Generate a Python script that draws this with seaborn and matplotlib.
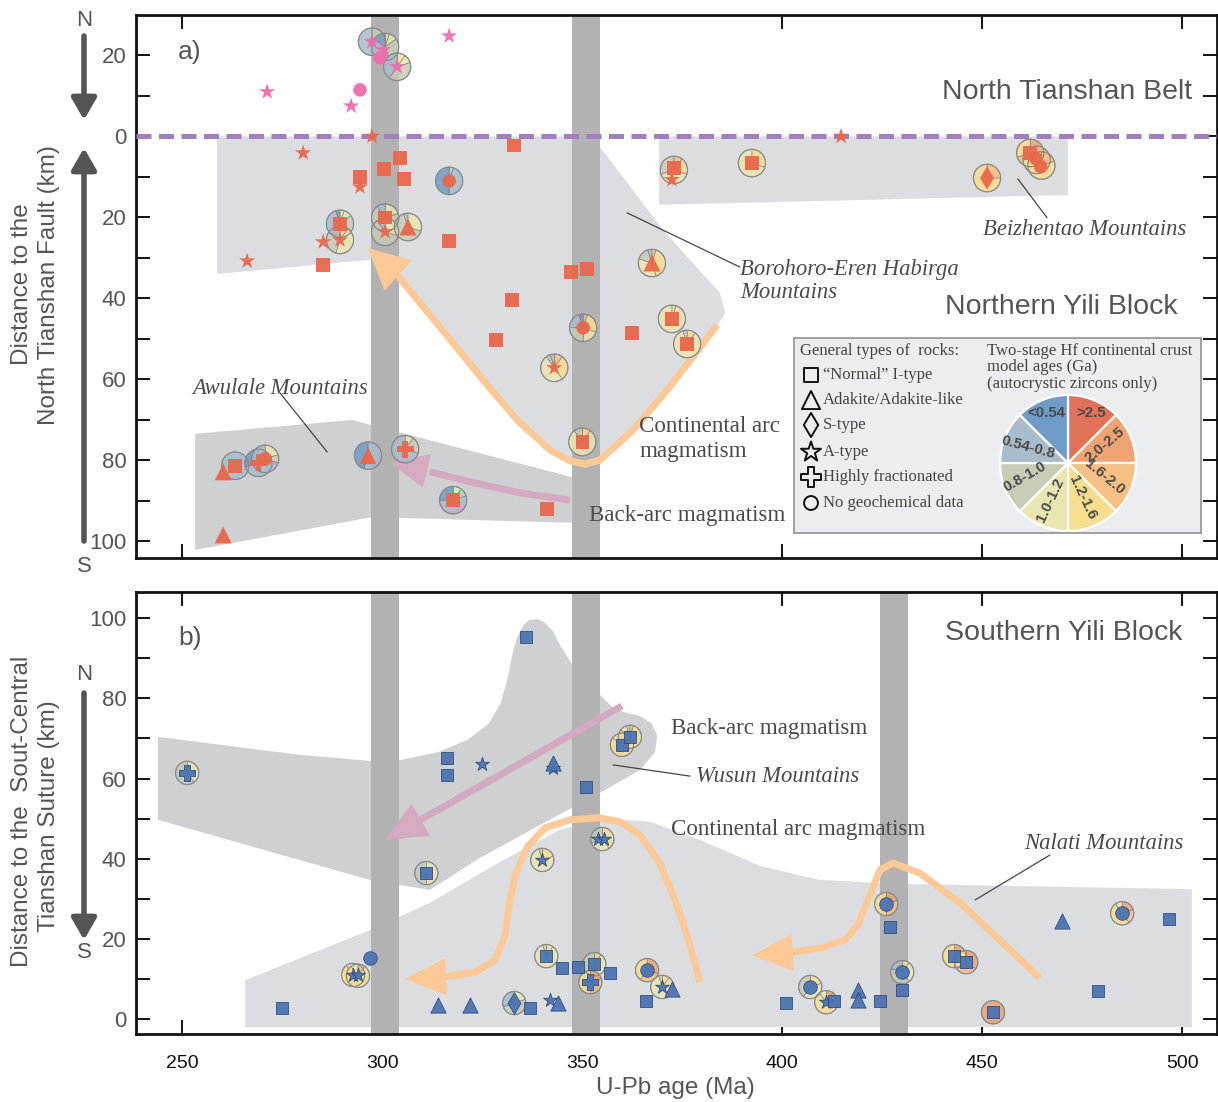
import numpy as np
import pandas as pd
import matplotlib
matplotlib.use("Agg")
import matplotlib.pyplot as plt
from matplotlib.patches import Wedge, Circle, Polygon, FancyArrowPatch
import matplotlib.ticker as mticker
import seaborn as sns

sns.set_theme(style="white")
plt.rcParams["font.family"] = ["Liberation Sans", "DejaVu Sans"]
SERIF = ["Liberation Serif", "DejaVu Serif"]

# ---------------------------------------------------------------- data ----
# Hf model-age classes (Ga), clockwise from 12 o'clock
hf_classes = [">2.5", "2.0-2.5", "1.6-2.0", "1.2-1.6", "1.0-1.2", "0.8-1.0", "0.54-0.8", "<0.54"]
hf_colors = ["#e2715a", "#f0a373", "#f6bf84", "#f6de8e", "#e9e7b1", "#c7ccb7", "#a8bccc", "#6e9bc7"]

rock_types = ["I", "adakite", "S", "A", "HF", "none"]
rock_labels = ["\u201cNormal\u201d I-type", "Adakite/Adakite-like", "S-type", "A-type",
               "Highly fractionated", "No geochemical data"]

# Panel a - North Tianshan Belt (negative distance = north of the fault)
nt_age = [271.2, 292.2, 316.7, 297.4, 300.2, 303.7, 294.4, 299.4]
nt_dist = [-11.0, -7.5, -24.8, -23.4, -21.4, -17.2, -11.5, -19.4]
nt_rock = ["A", "A", "A", "A", "A", "A", "none", "none"]

# Panel a - Northern Yili Block
ny_age = [294.4, 300.4, 304.4, 305.4, 285.2, 289.4, 300.7, 332.9, 316.7, 347.2, 351.2, 332.4,
          328.4, 362.4, 372.4, 376.2, 350.0, 317.7, 341.2, 372.9, 392.4, 263.2, 462.0,
          297.4, 280.2, 294.4, 266.2, 285.2, 289.4, 300.7, 372.4, 343.0, 414.7,
          306.4, 367.4, 260.2, 260.2, 296.4,
          316.7, 350.2, 270.7, 463.4, 464.6,
          305.7, 269.0,
          451.2]
ny_dist = [10.0, 8.0, 5.3, 10.5, 31.8, 21.6, 20.1, 2.3, 25.8, 33.5, 32.8, 40.4,
           50.3, 48.6, 45.1, 51.3, 75.5, 89.9, 92.1, 7.8, 6.6, 81.4, 4.1,
           0.0, 4.1, 12.5, 30.8, 26.1, 25.6, 23.6, 10.7, 57.2, 0.0,
           22.4, 31.3, 82.9, 98.5, 78.9,
           11.0, 47.3, 79.7, 5.5, 7.5,
           77.3, 80.7,
           10.3]
ny_rock = ["I"] * 23 + ["A"] * 10 + ["adakite"] * 5 + ["none"] * 5 + ["HF"] * 2 + ["S"]

# Panel a - Hf model-age pies (fractions per class)
a_pie_age = [297.4, 300.7, 303.7, 289.4, 289.4, 300.7, 300.7, 306.4, 316.7, 372.9, 392.4,
             367.4, 350.2, 343.0, 372.4, 376.2, 350.0, 317.7, 305.7, 263.2, 269.0, 270.7,
             296.4, 451.2, 462.0, 463.6, 464.8]
a_pie_dist = [-23.4, -22.1, -17.2, 21.6, 25.6, 20.1, 23.6, 22.4, 11.0, 8.3, 6.6,
              31.3, 47.3, 57.2, 45.1, 51.3, 75.5, 89.9, 77.3, 81.4, 80.7, 79.7,
              78.9, 10.3, 4.1, 5.8, 7.2]
a_pie_frac = [
    [0, 0, 0, 0, 0, 0.30, 0.70, 0],
    [0, 0, 0, 0.05, 0.10, 0.30, 0.40, 0.15],
    [0, 0, 0, 0.10, 0.10, 0.40, 0.40, 0],
    [0, 0, 0, 0.05, 0.10, 0.30, 0.50, 0.05],
    [0, 0, 0, 0.10, 0.45, 0.30, 0.15, 0],
    [0, 0, 0, 0, 0.20, 0.70, 0.10, 0],
    [0, 0, 0, 0, 0.30, 0.60, 0.10, 0],
    [0, 0, 0, 0, 0.30, 0.65, 0.05, 0],
    [0, 0, 0, 0, 0, 0.05, 0.45, 0.50],
    [0, 0, 0.10, 0.20, 0.40, 0.30, 0, 0],
    [0, 0, 0, 0.30, 0.70, 0, 0, 0],
    [0, 0, 0.05, 0.40, 0.35, 0.15, 0.05, 0],
    [0, 0, 0.05, 0.25, 0.20, 0.25, 0.20, 0.05],
    [0, 0, 0.10, 0.30, 0.50, 0.05, 0.05, 0],
    [0, 0, 0, 0.05, 0.95, 0, 0, 0],
    [0, 0, 0, 0.10, 0.85, 0.05, 0, 0],
    [0, 0, 0, 0.10, 0.80, 0.10, 0, 0],
    [0, 0, 0, 0, 0.10, 0.10, 0.55, 0.25],
    [0, 0, 0, 0, 0.10, 0.20, 0.70, 0],
    [0, 0, 0, 0, 0, 0, 1.00, 0],
    [0, 0, 0, 0, 0, 0.10, 0.60, 0.30],
    [0, 0, 0, 0, 0.20, 0.10, 0.70, 0],
    [0, 0, 0, 0, 0, 0, 0.55, 0.45],
    [0, 0, 0.25, 0.75, 0, 0, 0, 0],
    [0, 0.30, 0.40, 0.30, 0, 0, 0, 0],
    [0, 0, 0.30, 0.70, 0, 0, 0, 0],
    [0, 0, 0.20, 0.80, 0, 0, 0, 0],
]

# Panel b - Southern Yili Block
sy_age = [274.9, 335.9, 316.2, 316.2, 350.9, 344.9, 348.9, 356.9, 365.9, 336.9, 400.9, 424.4,
          426.9, 429.9, 496.7, 478.9, 412.9, 311.0, 341.0, 353.0, 359.9, 361.9, 443.0, 446.0, 452.7,
          313.9, 321.9, 343.9, 372.4, 418.9, 418.9, 469.9, 342.7,
          324.9, 342.7, 341.9, 292.7, 293.9, 353.9, 355.4, 340.0, 370.0, 411.0,
          296.9, 366.2, 407.0, 426.0, 430.0, 485.0,
          251.2, 352.0,
          333.0]
sy_dist = [2.7, 95.3, 65.1, 60.9, 57.9, 12.7, 13.0, 11.5, 4.5, 2.7, 4.0, 4.5,
           23.0, 7.2, 25.0, 7.0, 4.5, 36.4, 15.7, 13.7, 68.4, 70.4, 15.7, 14.2, 1.7,
           3.5, 3.5, 4.0, 7.5, 7.2, 4.7, 24.5, 63.9,
           63.6, 62.6, 4.7, 11.0, 11.0, 45.0, 45.0, 39.7, 8.0, 4.2,
           15.2, 12.2, 8.0, 28.7, 11.7, 26.4,
           61.4, 9.2,
           4.0]
sy_rock = ["I"] * 25 + ["adakite"] * 8 + ["A"] * 10 + ["none"] * 6 + ["HF"] * 2 + ["S"]

b_pie_age = [251.2, 292.7, 293.9, 359.9, 361.9, 355.0, 311.0, 340.0, 341.0, 353.0, 352.0,
             366.2, 370.0, 333.0, 407.0, 411.0, 426.0, 430.0, 443.0, 446.0, 452.7, 485.0]
b_pie_dist = [61.4, 11.0, 10.8, 68.4, 70.4, 44.9, 36.4, 39.7, 15.7, 13.7, 9.2,
              12.2, 8.0, 4.0, 8.0, 4.2, 28.7, 11.7, 15.7, 14.2, 1.7, 26.4]
b_pie_frac = [
    [0, 0, 0, 0, 0.40, 0.60, 0, 0],
    [0, 0, 0.10, 0.80, 0.10, 0, 0, 0],
    [0, 0, 0.10, 0.80, 0.10, 0, 0, 0],
    [0, 0, 0.05, 0.80, 0.10, 0.05, 0, 0],
    [0, 0, 0.05, 0.80, 0.10, 0.05, 0, 0],
    [0, 0, 0, 0.40, 0.30, 0.30, 0, 0],
    [0, 0, 0, 0, 0.50, 0.50, 0, 0],
    [0, 0, 0, 0.20, 0.75, 0.05, 0, 0],
    [0, 0, 0, 0.10, 0.85, 0.05, 0, 0],
    [0, 0, 0, 0.10, 0.40, 0.50, 0, 0],
    [0, 0.20, 0.30, 0.50, 0, 0, 0, 0],
    [0, 0.30, 0.30, 0.40, 0, 0, 0, 0],
    [0, 0, 0, 0.10, 0.85, 0.05, 0, 0],
    [0, 0, 0, 0, 0.20, 0.50, 0.30, 0],
    [0, 0, 0, 0.20, 0.40, 0.40, 0, 0],
    [0, 0.10, 0.20, 0.60, 0.10, 0, 0, 0],
    [0, 0.20, 0.30, 0.50, 0, 0, 0, 0],
    [0, 0, 0, 0.10, 0.30, 0.40, 0.20, 0],
    [0, 0.20, 0.30, 0.50, 0, 0, 0, 0],
    [0, 0.35, 0.30, 0.35, 0, 0, 0, 0],
    [0, 1.00, 0, 0, 0, 0, 0, 0],
    [0, 0.20, 0.20, 0.50, 0.10, 0, 0, 0],
]

# Magmatic flare-up intervals (Ma)
event_a = [(297.2, 304.2), (347.4, 354.4)]
event_b = [(297.2, 304.2), (347.4, 354.4), (424.4, 431.4)]

# Outlined domains (age, distance)
boro_age = [258.7, 354.4, 354.4, 370.2, 376.9, 384.4, 385.7, 383.7, 379.4, 371.2, 362.7,
            354.4, 350.7, 346.9, 341.9, 333.7, 325.2, 314.4, 303.2, 296.9, 258.7]
boro_dist = [0.0, 0.0, 2.6, 23.1, 30.5, 38.7, 43.6, 47.1, 52.3, 62.7, 72.6,
             80.0, 81.0, 80.2, 77.5, 70.1, 60.2, 47.1, 33.7, 30.5, 34.0]
beiz_age = [369.2, 471.4, 471.4, 369.2]
beiz_dist = [0.0, 0.0, 14.5, 16.9]
awul_age = [253.2, 292.4, 347.4, 347.4, 297.4, 253.2]
awul_dist = [73.5, 70.1, 84.2, 95.5, 94.1, 102.2]
wusun_age = [243.9, 279.4, 296.9, 304.4, 314.0, 321.2, 326.5, 329.5, 331.2, 332.4, 333.6, 335.2,
             336.9, 339.0, 340.7, 342.8, 344.4, 347.4, 353.2, 357.7, 361.0, 364.4, 367.3, 368.7,
             368.2, 364.4, 354.4, 339.4, 324.4, 311.9, 296.9, 243.9]
wusun_dist = [70.4, 65.9, 64.4, 64.6, 66.6, 69.6, 73.6, 78.6, 84.4, 90.4, 95.0, 98.2,
              99.6, 99.7, 98.8, 96.6, 93.3, 88.6, 82.1, 77.6, 76.4, 75.6, 73.8, 70.8,
              66.6, 62.1, 56.4, 48.4, 40.2, 32.2, 34.7, 49.7]
nalati_age = [265.7, 296.9, 311.9, 329.4, 344.4, 354.4, 366.9, 379.4, 394.4, 409.4, 429.4,
              502.4, 502.4, 265.7]
nalati_dist = [9.7, 22.2, 29.0, 39.2, 47.2, 50.2, 49.2, 44.7, 38.2, 34.7, 33.7,
               32.4, -2.0, -2.0]

# Migration paths (last point = arrow tip)
arc_a_age = [383.7, 379.4, 371.2, 362.7, 354.4, 350.7, 346.9, 341.9, 333.7, 325.2, 314.4, 303.2, 296.4]
arc_a_dist = [46.6, 52.3, 62.7, 72.6, 80.0, 81.0, 80.2, 77.5, 70.1, 60.2, 47.1, 33.7, 27.6]
back_a_age = [346.9, 334.4, 321.9, 311.9, 301.9]
back_a_dist = [89.9, 88.1, 85.4, 82.9, 80.5]
arc_b1_age = [379.4, 376.9, 374.4, 369.4, 364.4, 359.4, 354.4, 346.9, 340.7, 336.2, 333.2,
              331.9, 330.7, 328.2, 323.2, 315.7, 305.7]
arc_b1_dist = [9.2, 18.5, 26.5, 38.9, 45.9, 49.2, 50.2, 49.7, 47.7, 42.9, 35.9,
               29.7, 21.0, 14.7, 11.7, 10.5, 10.0]
arc_b2_age = [464.4, 454.4, 444.4, 434.4, 427.7, 424.4, 421.9, 418.9, 415.7, 409.4, 401.9, 392.4]
arc_b2_dist = [10.2, 19.7, 29.0, 36.4, 38.9, 37.2, 30.9, 23.5, 19.7, 17.7, 16.5, 15.9]
back_b_age = [359.9, 309.0, 300.7]
back_b_dist = [78.1, 49.4, 44.7]

# ------------------------------------------------------------- styling ----
W, H = 1218, 1102
RED, PINK, BLUE = "#e9674b", "#ef6dab", "#4b74b2"
ORANGE, MAUVE = "#fdc996", "#d5a9bf"
LIGHT, DARK, BAR = "#dcdde0", "#cfd0d2", "#b2b2b2"
TXT = "#555555"

MARK = {"I": "s", "adakite": "^", "S": "d", "A": "*", "HF": "P", "none": "o"}
SIZE_A = {"I": 95, "adakite": 150, "S": 140, "A": 150, "HF": 150, "none": 95}
SIZE_B = {"I": 70, "adakite": 120, "S": 120, "A": 110, "HF": 120, "none": 95}


def fx(px):
    return px / W


def fy(py):
    return 1 - py / H


fig = plt.figure(figsize=(W / 100, H / 100), dpi=100)
ax_a = fig.add_axes([fx(136), fy(558), (1217 - 136) / W, (558 - 15) / H])
ax_b = fig.add_axes([fx(136), fy(1034.3), (1217 - 136) / W, (1034.3 - 591.7) / H])


def add_pies(ax, ages, dists, fracs, radius, flip):
    for x, y, fr in zip(ages, dists, fracs):
        start = 90.0
        for f, col in zip(fr, hf_colors):
            if f <= 0:
                continue
            end = start - 360.0 * f
            t1, t2 = (-start, -end) if flip else (end, start)
            ax.add_patch(Wedge((x, y), radius, t1, t2, facecolor=col, edgecolor="#6f6f6f",
                               linewidth=0.4, alpha=0.85, zorder=5))
            start = end
        ax.add_patch(Circle((x, y), radius, facecolor="none", edgecolor="#8a8a8a",
                            linewidth=0.9, zorder=5.1))


def add_markers(ax, age, dist, rock, color, sizes, edge, lw):
    df = pd.DataFrame({"age": age, "dist": dist, "rock": rock})
    for r, grp in df.groupby("rock"):
        sns.scatterplot(data=grp, x="age", y="dist", marker=MARK[r], s=sizes[r], color=color,
                        edgecolor=edge, linewidth=lw, alpha=0.95, ax=ax, zorder=6, legend=False)


def add_path(ax, xs, ys, color, lw, ms, hl, hw):
    ax.plot(xs[:-1], ys[:-1], color=color, lw=lw, solid_capstyle="butt",
            solid_joinstyle="round", zorder=3)
    ax.annotate("", xy=(xs[-1], ys[-1]), xytext=(xs[-2], ys[-2]),
                arrowprops=dict(arrowstyle=f"-|>,head_length={hl},head_width={hw}",
                                color=color, lw=0.5, mutation_scale=ms,
                                shrinkA=0, shrinkB=0), zorder=3)


def region(ax, xs, ys, color):
    ax.add_patch(Polygon(np.column_stack([xs, ys]), closed=True, facecolor=color,
                         edgecolor="none", zorder=1))


def style_axes(ax, ylim, yticks, show_x):
    ax.set_xlim(238.4, 508.7)
    ax.set_ylim(*ylim)
    ax.set_xlabel("")
    ax.set_ylabel("")
    ax.xaxis.set_major_locator(mticker.FixedLocator([250, 300, 350, 400, 450, 500]))
    ax.yaxis.set_major_locator(mticker.FixedLocator(yticks))
    ax.yaxis.set_major_formatter(mticker.FuncFormatter(
        lambda v, p: f"{abs(v):.0f}" if round(v) % 20 == 0 else ""))
    ax.tick_params(axis="both", direction="in", length=10, width=1.4, color="#111",
                   top=True, right=True, bottom=True, left=True)
    ax.tick_params(axis="y", labelsize=16, labelcolor=TXT, pad=7)
    ax.tick_params(axis="x", labelsize=14, labelcolor="#111", pad=15, labelbottom=show_x)
    for s in ax.spines.values():
        s.set_visible(True)
        s.set_color("#111")
        s.set_linewidth(2.0)
    ax.set_facecolor("white")


# ------------------------------------------------------------- panel a ----
region(ax_a, boro_age, boro_dist, LIGHT)
region(ax_a, beiz_age, beiz_dist, LIGHT)
region(ax_a, awul_age, awul_dist, DARK)
for lo, hi in event_a:
    ax_a.axvspan(lo, hi, color=BAR, lw=0, zorder=2)
add_path(ax_a, arc_a_age, arc_a_dist, ORANGE, 5, 26, 1.1, 0.55)
add_path(ax_a, back_a_age, back_a_dist, MAUVE, 5, 24, 1.1, 0.5)
ax_a.axhline(0, color="#a07ec0", lw=3.6, ls=(0, (3.0, 1.5)), zorder=4)
add_pies(ax_a, a_pie_age, a_pie_dist, a_pie_frac, 3.4, flip=True)
add_markers(ax_a, ny_age, ny_dist, ny_rock, RED, SIZE_A, "none", 0)
add_markers(ax_a, nt_age, nt_dist, nt_rock, PINK, SIZE_A, "none", 0)
style_axes(ax_a, (104.2, -30.0), list(range(-20, 101, 10)), False)

ax_a.text(0.039, 0.932, "a)", transform=ax_a.transAxes, fontsize=19, color=TXT, va="center")
ax_a.text(0.977, 0.858, "North Tianshan Belt", transform=ax_a.transAxes, fontsize=20.5,
          color=TXT, ha="right", va="center")
ax_a.text(0.964, 0.462, "Northern Yili Block", transform=ax_a.transAxes, fontsize=20.5,
          color=TXT, ha="right", va="center")
it = dict(family=SERIF, style="italic", fontsize=16.3, color="#4a4a4a", va="center", zorder=7)
rm = dict(family=SERIF, fontsize=16.6, color="#4a4a4a", va="center", zorder=7)
ax_a.text(389.4, 33.0, "Borohoro-Eren Habirga", **it)
ax_a.text(389.4, 38.6, "Mountains", **it)
ax_a.plot([361.2, 389.4], [18.9, 32.3], color="#444", lw=0.9, zorder=7)
ax_a.text(450.2, 22.9, "Beizhentao Mountains", **it)
ax_a.plot([458.9, 466.2], [10.5, 20.1], color="#444", lw=0.9, zorder=7)
ax_a.text(252.4, 62.2, "Awulale Mountains", **it)
ax_a.plot([274.4, 286.2], [63.4, 78.0], color="#444", lw=0.9, zorder=7)
ax_a.text(364.2, 71.8, "Continental arc", **rm)
ax_a.text(364.2, 77.8, "magmatism", **rm)
ax_a.text(351.7, 93.8, "Back-arc magmatism", **rm)

# ------------------------------------------------------------- panel b ----
region(ax_b, wusun_age, wusun_dist, DARK)
region(ax_b, nalati_age, nalati_dist, LIGHT)
for lo, hi in event_b:
    ax_b.axvspan(lo, hi, color=BAR, lw=0, zorder=2)
add_path(ax_b, arc_b1_age, arc_b1_dist, ORANGE, 5, 26, 1.1, 0.5)
add_path(ax_b, arc_b2_age, arc_b2_dist, ORANGE, 5, 26, 1.1, 0.5)
add_path(ax_b, back_b_age, back_b_dist, MAUVE, 5, 26, 1.1, 0.5)
add_pies(ax_b, b_pie_age, b_pie_dist, b_pie_frac, 2.9, flip=False)
add_markers(ax_b, sy_age, sy_dist, sy_rock, BLUE, SIZE_B, "#2c4a7c", 0.6)
style_axes(ax_b, (-3.8, 106.6), list(range(0, 101, 10)), True)

ax_b.text(0.039, 0.895, "b)", transform=ax_b.transAxes, fontsize=19, color=TXT, va="center")
ax_b.text(0.968, 0.907, "Southern Yili Block", transform=ax_b.transAxes, fontsize=20.5,
          color=TXT, ha="right", va="center")
ax_b.text(372.2, 72.4, "Back-arc magmatism", **rm)
ax_b.text(378.4, 60.4, "Wusun Mountains", **it)
ax_b.plot([357.7, 376.9], [63.4, 60.6], color="#444", lw=0.9, zorder=7)
ax_b.text(372.2, 47.2, "Continental arc magmatism", **rm)
ax_b.text(460.4, 43.9, "Nalati Mountains", **it)
ax_b.plot([466.9, 448.2], [40.9, 29.7], color="#444", lw=0.9, zorder=7)

# ------------------------------------------------------ axis titles -------
lab = dict(rotation=90, ha="center", va="center", fontsize=17.5, color=TXT)
fig.text(fx(22), fy(284), "Distance to the", **lab)
fig.text(fx(49), fy(285), "North Tianshan Fault (km)", **lab)
fig.text(fx(22), fy(811), "Distance to the  Sout-Central", **lab)
fig.text(fx(49), fy(816), "Tianshan Suture (km)", **lab)
fig.text(fx(675), fy(1088), "U-Pb age (Ma)", ha="center", va="center", fontsize=17.5, color=TXT)


def fig_arrow(p0, p1):
    fig.add_artist(FancyArrowPatch((fx(p0[0]), fy(p0[1])), (fx(p1[0]), fy(p1[1])),
                                   transform=fig.transFigure,
                                   arrowstyle="-|>,head_length=1.3,head_width=0.75",
                                   mutation_scale=10, lw=4.0, color="#555555",
                                   shrinkA=0, shrinkB=0))


ns = dict(ha="center", va="center", fontsize=16, color=TXT)
fig.text(fx(84), fy(20), "N", **ns)
fig_arrow((84, 36), (84, 120))
fig_arrow((84, 541), (84, 148))
fig.text(fx(84), fy(567), "S", **ns)
fig.text(fx(84), fy(675), "N", **ns)
fig_arrow((84, 693), (84, 940))
fig.text(fx(84), fy(952), "S", **ns)

# ------------------------------------------------------------- legend -----
ax_l = fig.add_axes([fx(794), fy(533), 407 / W, 195 / H])
ax_l.set_xlim(0, 407)
ax_l.set_ylim(195, 0)
ax_l.set_xticks([])
ax_l.set_yticks([])
ax_l.set_facecolor("#ecedf0")
for s in ax_l.spines.values():
    s.set_visible(True)
    s.set_color("#9a9a9a")
    s.set_linewidth(1.3)
ax_l.set_zorder(10)

lt = dict(family=SERIF, fontsize=12, color="#444", va="center")
ax_l.text(6, 13, "General types of  rocks:", **lt)
leg_y = [37, 62, 87, 114, 139, 165]
leg_s = {"I": 110, "adakite": 170, "S": 150, "A": 230, "HF": 190, "none": 100}
for r, lbl, yy in zip(rock_types, rock_labels, leg_y):
    ax_l.scatter([17], [yy], marker=MARK[r], s=leg_s[r], facecolors="none",
                 edgecolors="#111", linewidths=1.4)
    ax_l.text(29, yy, lbl, **lt)

ax_l.text(193, 13, "Two-stage Hf continental crust", **lt)
ax_l.text(193, 29, "model ages (Ga)", **lt)
ax_l.text(193, 46, "(autocrystic zircons only)", **lt)

pc, pr = (274, 125), 68
start = 90.0
for col in hf_colors:
    end = start - 45.0
    ax_l.add_patch(Wedge(pc, pr, -start, -end, facecolor=col, edgecolor="white", linewidth=1.6))
    start = end
pie_lab_off = [(23, -50), (37, -18), (37, 14), (15, 35), (-18, 37), (-43, 14), (-40, -16), (-22, -50)]
pie_lab_rot = [0, 40, -40, -65, 65, 30, -15, 0]
for name, (dx, dy), rot in zip(hf_classes, pie_lab_off, pie_lab_rot):
    ax_l.text(pc[0] + dx, pc[1] + dy, name, rotation=rot, ha="center", va="center",
              fontsize=10.8, fontweight="bold", color="#4a4a4a", rotation_mode="anchor")

fig.savefig("out.png", dpi=100)
